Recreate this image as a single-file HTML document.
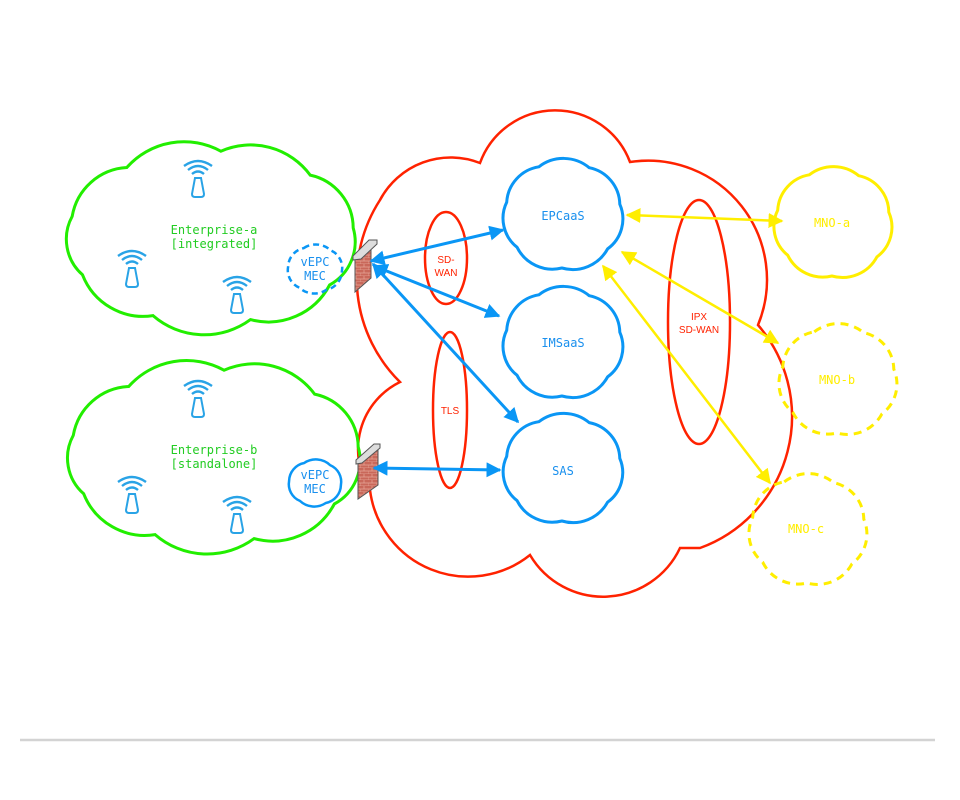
<!DOCTYPE html>
<html><head><meta charset="utf-8"><style>
html,body{margin:0;padding:0;background:#fff;width:960px;height:800px;overflow:hidden}
svg text{font-family:"DejaVu Sans Mono","Liberation Mono",monospace}
</style></head><body>
<svg id="s" width="960" height="800" viewBox="0 0 960 800" xmlns="http://www.w3.org/2000/svg">
<defs>
<marker id="ab" viewBox="0 0 10 10" refX="9" refY="5" markerWidth="5" markerHeight="5" orient="auto-start-reverse"><path d="M0,0L10,5L0,10z" fill="#0a96f5"/></marker>
<marker id="ay" viewBox="0 0 10 10" refX="9" refY="5" markerWidth="6" markerHeight="6" orient="auto-start-reverse"><path d="M0,0L10,5L0,10z" fill="#ffee00"/></marker>
<pattern id="brick" width="8" height="6" patternUnits="userSpaceOnUse"><rect width="8" height="6" fill="#c9685a"/><path d="M0,3H8M0,6H8M4,0V3M0,3V6" stroke="#e8a898" stroke-width="0.7"/></pattern>
<g id="ant"><path d="M-14,-6 Q0,-16 14,-6 M-10,-2 Q0,-10 10,-2 M-6,2 Q0,-3 6,2" stroke="#29a3e6" stroke-width="2.4" fill="none"/><path d="M-3,6 L3,6 L6,22 Q6,25 3,25 L-3,25 Q-6,25 -6,22 Z" stroke="#29a3e6" stroke-width="2" fill="#fff"/></g>
</defs>
<g id="clouds"></g>
<ellipse cx="446" cy="258" rx="21" ry="46" fill="none" stroke="#ff2200" stroke-width="2.5"/>
<ellipse cx="450" cy="410" rx="17" ry="78" fill="none" stroke="#ff2200" stroke-width="2.5"/>
<ellipse cx="699" cy="322" rx="31" ry="122" fill="none" stroke="#ff2200" stroke-width="2.5"/>
<g font-size="10" fill="#ff2200" text-anchor="middle">
<text x="446" y="263" style="font-family:'Liberation Sans',sans-serif">SD-</text>
<text x="446" y="276" style="font-family:'Liberation Sans',sans-serif">WAN</text>
<text x="450" y="414" style="font-family:'Liberation Sans',sans-serif">TLS</text>
<text x="699" y="320" style="font-family:'Liberation Sans',sans-serif">IPX</text>
<text x="699" y="333" style="font-family:'Liberation Sans',sans-serif">SD-WAN</text>
</g>
<use href="#ant" x="198" y="172"/><use href="#ant" x="132" y="262"/><use href="#ant" x="237" y="288"/>
<use href="#ant" x="198" y="392"/><use href="#ant" x="132" y="488"/><use href="#ant" x="237" y="508"/>
<text x="214" y="234" font-size="12" fill="#22cc22" text-anchor="middle">Enterprise-a</text>
<text x="214" y="248" font-size="12" fill="#22cc22" text-anchor="middle">[integrated]</text>
<text x="214" y="454" font-size="12" fill="#22cc22" text-anchor="middle">Enterprise-b</text>
<text x="214" y="468" font-size="12" fill="#22cc22" text-anchor="middle">[standalone]</text>
<text x="315" y="266" font-size="12" fill="#1a90ee" text-anchor="middle">vEPC</text>
<text x="315" y="280" font-size="12" fill="#1a90ee" text-anchor="middle">MEC</text>
<text x="315" y="479" font-size="12" fill="#1a90ee" text-anchor="middle">vEPC</text>
<text x="315" y="493" font-size="12" fill="#1a90ee" text-anchor="middle">MEC</text>
<text x="563" y="220" font-size="12" fill="#1a90ee" text-anchor="middle">EPCaaS</text>
<text x="563" y="347" font-size="12" fill="#1a90ee" text-anchor="middle">IMSaaS</text>
<text x="563" y="475" font-size="12" fill="#1a90ee" text-anchor="middle">SAS</text>
<text x="832" y="227" font-size="12" fill="#ffee00" text-anchor="middle">MNO-a</text>
<text x="837" y="384" font-size="12" fill="#ffee00" text-anchor="middle">MNO-b</text>
<text x="806" y="533" font-size="12" fill="#ffee00" text-anchor="middle">MNO-c</text>
<g stroke="#555" stroke-width="1"><path d="M355,258 L371,244 L371,278 L355,292 Z" fill="url(#brick)"/><path d="M353,256 L369,240 L377,240 L377,244 L361,259 L353,260 Z" fill="#ddd"/></g>
<g stroke="#555" stroke-width="1"><path d="M358,462 L378,448 L378,485 L358,499 Z" fill="url(#brick)"/><path d="M356,460 L374,444 L380,444 L380,448 L362,463 L356,464 Z" fill="#ddd"/></g>
<g stroke="#0a96f5" stroke-width="3" fill="none" marker-start="url(#ab)" marker-end="url(#ab)">
<line x1="371" y1="261" x2="503" y2="230"/>
<line x1="374" y1="266" x2="499" y2="316"/>
<line x1="373" y1="264" x2="518" y2="422"/>
<line x1="374" y1="468" x2="500" y2="470"/>
</g>
<g stroke="#ffee00" stroke-width="2.5" fill="none" marker-start="url(#ay)" marker-end="url(#ay)">
<line x1="627" y1="215" x2="782" y2="221"/>
<line x1="622" y1="252" x2="778" y2="343"/>
<line x1="603" y1="266" x2="770" y2="483"/>
</g>
<line x1="20" y1="740" x2="935" y2="740" stroke="#d3d3d3" stroke-width="2.5"/>
</svg>
<script>
function cloud(cx,cy,rx,ry,n,ph,f){var p=[],d='';for(var i=0;i<n;i++){var a=ph+i*2*Math.PI/n;p.push([cx+rx*Math.cos(a),cy+ry*Math.sin(a)]);}
for(var i=0;i<n;i++){var a=p[i],b=p[(i+1)%n];var c=Math.hypot(b[0]-a[0],b[1]-a[1]);var r=c*f;if(i==0)d+='M'+a[0].toFixed(1)+','+a[1].toFixed(1);d+='A'+r.toFixed(1)+','+r.toFixed(1)+' 0 0 1 '+b[0].toFixed(1)+','+b[1].toFixed(1);}return d+'Z';}
var g=document.getElementById('clouds'),NS='http://www.w3.org/2000/svg';
function add(d,col,w,dash){var e=document.createElementNS(NS,'path');e.setAttribute('d',d);e.setAttribute('fill','none');e.setAttribute('stroke',col);e.setAttribute('stroke-width',w);if(dash)e.setAttribute('stroke-dasharray',dash);g.appendChild(e);}
add('M480,163 A80,80 0 0 1 630,162 A119,119 0 0 1 758,325 A140,140 0 0 1 700,548 L680,548 A85,85 0 0 1 530,555 A99,99 0 0 1 370,490 A75,75 0 0 1 400,382 A145,145 0 0 1 380,200 A80,80 0 0 1 480,163 Z','#ff2200',2.5);
add(cloud(211,237,143,86,9,-2.2,0.8),'#22ee00',3);
add(cloud(214,456,145,86,9,-2.2,0.8),'#22ee00',3);
add(cloud(563,215,58,53,7,-2.0,0.8),'#0a96f5',3);
add(cloud(563,343,58,53,7,-2.0,0.8),'#0a96f5',3);
add(cloud(563,469,58,52,7,-2.0,0.8),'#0a96f5',3);
add(cloud(315,269,27,23,6,-2.0,0.8),'#0a96f5',2.5,'6,4');
add(cloud(315,483,26,22,6,-2.0,0.8),'#0a96f5',2.5);
add(cloud(833,223,57,53,7,-2.0,0.8),'#ffee00',3);
add(cloud(838,380,57,53,7,-2.0,0.8),'#ffee00',3,'8,6');
add(cloud(808,530,57,53,7,-2.0,0.8),'#ffee00',3,'8,6');
</script>
</body></html>
